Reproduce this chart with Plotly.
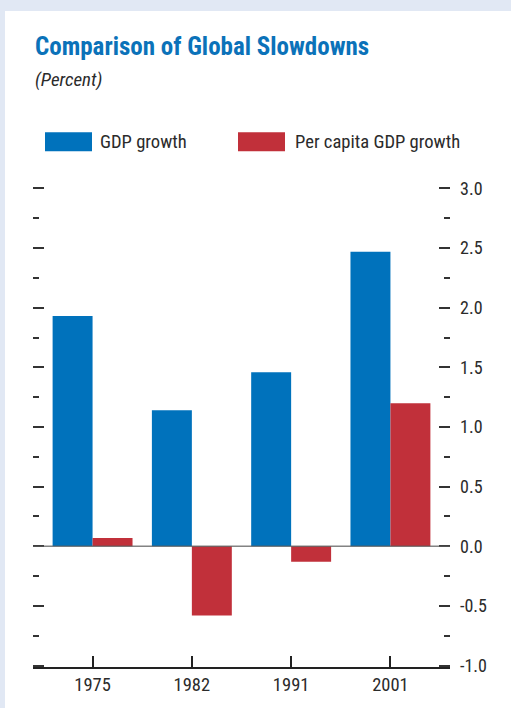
import plotly.graph_objects as go

years = ["1975", "1982", "1991", "2001"]
gdp_growth = [1.93, 1.14, 1.46, 2.47]
per_capita_growth = [0.07, -0.58, -0.13, 1.20]
series_names = ["GDP growth", "Per capita GDP growth"]
y_tick_vals = [-1.0, -0.5, 0.0, 0.5, 1.0, 1.5, 2.0, 2.5, 3.0]
y_tick_text = ["-1.0", "-0.5", "0.0", "0.5", "1.0", "1.5", "2.0", "2.5", "3.0"]

BLUE = "#0072BC"
RED = "#C1303A"
TXT = "#2B2B2B"
FONT = "Roboto Condensed, Liberation Sans, sans-serif"

W, H = 511, 708
L, R, T, B = 33, 61, 187, 38
pw, ph = W - L - R, H - T - B
PAD = 0.012  # keeps end ticks from being clipped

def px(x):
    return (x - L) / pw

def py(y):
    return (H - B - y) / ph

fig = go.Figure()
fig.add_trace(go.Bar(x=years, y=gdp_growth, name=series_names[0], marker_color=BLUE,
                     marker_line_width=0))
fig.add_trace(go.Bar(x=years, y=per_capita_growth, name=series_names[1], marker_color=RED,
                     marker_line_width=0))
# invisible trace for right axis
fig.add_trace(go.Scatter(x=years, y=gdp_growth, yaxis="y2", mode="markers",
                         marker=dict(opacity=0), showlegend=False, hoverinfo="skip"))

shapes = [
    dict(type="rect", xref="paper", yref="paper", x0=px(5), x1=px(W + 5), y0=py(10), y1=py(H + 5),
         fillcolor="white", line_width=0, layer="below"),
    dict(type="rect", xref="paper", yref="paper", x0=px(45), x1=px(92), y0=py(151), y1=py(132),
         fillcolor=BLUE, line_width=0),
    dict(type="rect", xref="paper", yref="paper", x0=px(238), x1=px(285), y0=py(151), y1=py(132),
         fillcolor=RED, line_width=0),
    dict(type="line", xref="paper", yref="y", x0=0, x1=1, y0=0, y1=0,
         line=dict(color="rgba(90,90,90,0.75)", width=1.5), layer="above"),
]

annotations = [
    dict(text="<b>Comparison of Global Slowdowns</b>", xref="paper", yref="paper",
         x=px(33), y=py(46), xanchor="left", yanchor="middle", showarrow=False,
         font=dict(family=FONT, size=25, color="#0B72B9")),
    dict(text="<i>(Percent)</i>", xref="paper", yref="paper",
         x=px(33), y=py(79), xanchor="left", yanchor="middle", showarrow=False,
         font=dict(family=FONT, size=19, color=TXT)),
    dict(text=series_names[0], xref="paper", yref="paper",
         x=px(98), y=py(142), xanchor="left", yanchor="middle", showarrow=False,
         font=dict(family=FONT, size=18.6, color=TXT)),
    dict(text=series_names[1], xref="paper", yref="paper",
         x=px(293), y=py(142), xanchor="left", yanchor="middle", showarrow=False,
         font=dict(family=FONT, size=18.6, color=TXT)),
]

fig.update_layout(
    width=W, height=H,
    margin=dict(l=L, r=R, t=T, b=B, pad=0),
    paper_bgcolor="#E1E8F4",
    plot_bgcolor="rgba(0,0,0,0)",
    barmode="group", bargap=0.195, bargroupgap=0,
    showlegend=False,
    shapes=shapes,
    annotations=annotations,
    font=dict(family=FONT, color=TXT, size=18),
    xaxis=dict(type="category", range=[-0.6, 3.6], showgrid=False, zeroline=False,
               showline=True, linecolor="#222", linewidth=1.5,
               ticks="inside", ticklen=11, tickwidth=1.5, tickcolor="#222",
               tickfont=dict(family=FONT, size=18.5, color=TXT)),
    yaxis=dict(range=[-1 - PAD, 3 + PAD], showgrid=False, zeroline=False, showline=False,
               tickvals=y_tick_vals, showticklabels=False,
               ticks="inside", ticklen=11, tickwidth=1.5, tickcolor="#333",
               minor=dict(dtick=0.25, tick0=0, ticks="inside", ticklen=6, tickwidth=1.5,
                          tickcolor="#333", showgrid=False)),
    yaxis2=dict(range=[-1 - PAD, 3 + PAD], overlaying="y", side="right", anchor="x",
                showgrid=False, zeroline=False, showline=False,
                tickvals=y_tick_vals, ticktext=y_tick_text,
                ticks="inside", ticklen=11, tickwidth=1.5, tickcolor="#333",
                ticklabelstandoff=9,
                tickfont=dict(family=FONT, size=18, color=TXT),
                minor=dict(dtick=0.25, tick0=0, ticks="inside", ticklen=6, tickwidth=1.5,
                           tickcolor="#333", showgrid=False)),
)

fig.write_html("out.html")
